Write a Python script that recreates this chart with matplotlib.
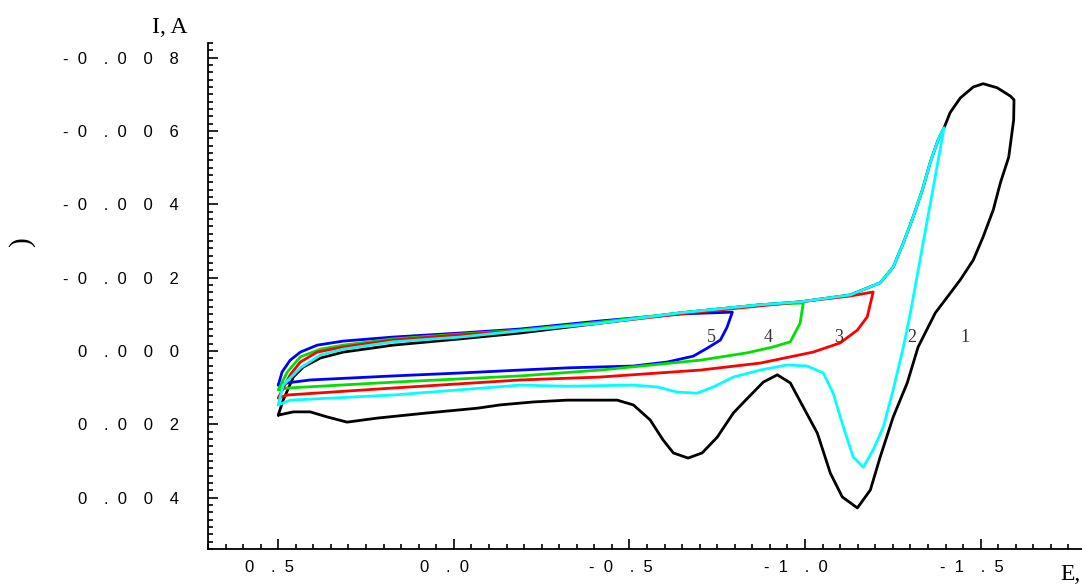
import matplotlib
matplotlib.use("Agg")
import matplotlib.pyplot as plt
import matplotlib.transforms as mtransforms
from matplotlib.ticker import MultipleLocator, FuncFormatter
import numpy as np

# potentials (V) and currents (mA), forward scan followed by the reverse scan
e1 = [0.500, 0.486, 0.457, 0.429, 0.380, 0.315, 0.173, -0.018, -0.189, -0.417, -0.645, -0.872,
      -0.986, -1.129, -1.157, -1.214, -1.251, -1.280, -1.308, -1.334, -1.356, -1.379, -1.396,
      -1.413, -1.442, -1.479, -1.507, -1.547, -1.585, -1.595,
      -1.594, -1.580, -1.556, -1.536, -1.507, -1.479, -1.442, -1.405, -1.371, -1.342, -1.322,
      -1.291, -1.251, -1.214, -1.186, -1.149, -1.106, -1.072, -1.035, -0.995, -0.958, -0.921,
      -0.881, -0.835, -0.796, -0.750, -0.707, -0.667, -0.625, -0.596, -0.559, -0.511, -0.465,
      -0.323, -0.226, -0.132, -0.067, 0.076, 0.218, 0.304, 0.360, 0.409, 0.457, 0.500]
i1 = [1.75, 1.34, 0.71, 0.44, 0.19, 0.03, -0.16, -0.33, -0.49, -0.76, -1.04, -1.26,
      -1.34, -1.53, -1.64, -1.86, -2.29, -2.95, -3.66, -4.39, -5.13, -5.76, -6.09,
      -6.50, -6.90, -7.20, -7.29, -7.18, -6.95, -6.85,
      -6.30, -5.29, -4.58, -3.85, -3.11, -2.48, -1.94, -1.47, -1.04, -0.49, -0.11,
      0.87, 1.80, 2.89, 3.79, 4.28, 3.98, 3.33, 2.24, 1.53, 0.87, 0.65,
      0.85, 1.30, 1.69, 2.35, 2.78, 2.92, 2.78, 2.43, 1.88, 1.47, 1.34,
      1.34, 1.39, 1.47, 1.56, 1.69, 1.83, 1.94, 1.80, 1.66, 1.66, 1.75]

e2 = [0.500, 0.486, 0.437, 0.380, 0.315, 0.173, -0.018, -0.189, -0.417, -0.645, -0.872,
      -0.986, -1.129, -1.157, -1.214, -1.251, -1.280, -1.308, -1.334, -1.356, -1.379, -1.396,
      -1.300, -1.280, -1.251, -1.223, -1.194, -1.166, -1.137, -1.109, -1.080, -1.052, -1.006,
      -0.949, -0.872, -0.796, -0.739, -0.693, -0.636, -0.579, -0.511, -0.323, -0.189, 0.173,
      0.466, 0.500]
i2 = [1.47, 0.93, 0.46, 0.11, -0.05, -0.25, -0.38, -0.55, -0.76, -1.04, -1.26,
      -1.34, -1.53, -1.64, -1.86, -2.29, -2.95, -3.66, -4.39, -5.13, -5.76, -6.09,
      -1.04, -0.11, 1.06, 2.07, 2.70, 3.17, 2.89, 2.07, 1.15, 0.60, 0.41,
      0.38, 0.52, 0.71, 0.98, 1.15, 1.12, 0.98, 0.93, 0.96, 0.93, 1.20,
      1.34, 1.47]

e3 = [0.500, 0.466, 0.437, 0.389, 0.315, 0.173, -0.018, -0.189, -0.417, -0.645, -0.872,
      -0.986, -1.129, -1.194,
      -1.177, -1.149, -1.100, -1.023, -0.872, -0.702, -0.417, -0.189, 0.173, 0.474, 0.500]
i3 = [1.28, 0.65, 0.30, 0.03, -0.11, -0.30, -0.44, -0.55, -0.76, -1.01, -1.23,
      -1.34, -1.50, -1.61,
      -0.93, -0.57, -0.22, 0.03, 0.33, 0.52, 0.71, 0.79, 1.01, 1.20, 1.28]

e4 = [0.500, 0.474, 0.437, 0.380, 0.315, 0.173, -0.018, -0.189, -0.417, -0.645, -0.872, -0.995,
      -0.986, -0.958, -0.909, -0.835, -0.702, -0.417, -0.189, 0.173, 0.474, 0.500]
i4 = [1.06, 0.57, 0.16, -0.05, -0.16, -0.33, -0.46, -0.57, -0.79, -1.04, -1.26, -1.31,
      -0.76, -0.25, -0.11, 0.05, 0.25, 0.52, 0.68, 0.85, 1.01, 1.06]

e5 = [0.500, 0.489, 0.466, 0.437, 0.389, 0.315, 0.173, -0.018, -0.189, -0.417, -0.645, -0.793,
      -0.778, -0.759, -0.722, -0.682, -0.608, -0.511, -0.323, -0.189, -0.018, 0.173, 0.409,
      0.474, 0.500]
i5 = [0.93, 0.57, 0.25, 0.03, -0.16, -0.27, -0.38, -0.49, -0.60, -0.82, -1.01, -1.06,
      -0.65, -0.30, -0.08, 0.14, 0.30, 0.41, 0.46, 0.52, 0.60, 0.68, 0.79,
      0.87, 0.93]

curve_names = ["1", "2", "3", "4", "5"]
name_e = [-1.456, -1.305, -1.095, -0.895, -0.733]
name_i = -0.38

SANS = ["Liberation Sans", "DejaVu Sans"]
SERIF = ["Liberation Serif", "DejaVu Serif"]


def spaced(s):
    out = s[0]
    for prev, ch in zip(s, s[1:]):
        out += ("  " if prev in "-." else "\u2002\u2002") + ch
    return out


fig = plt.figure(figsize=(10.82, 5.87), dpi=100)
ax = fig.add_axes([208 / 1082, 38 / 587, 878 / 1082, 506 / 587])

curves = [(e1, i1, "black"), (e5, i5, "#0000ff"), (e4, i4, "#00e000"),
          (e3, i3, "#ff0000"), (e2, i2, "#00ffff")]
for e, i, c in curves:
    ax.plot(e, np.array(i) * 1e-3, color=c, lw=2.0,
            solid_joinstyle="round", solid_capstyle="round")

for name, e in zip(curve_names, name_e):
    ax.text(e, name_i * 1e-3, name, fontsize=13, family=SERIF,
            ha="center", va="center", color="#333333")

ax.set_xlim(0.7, -1.8)
ax.set_ylim(0.0054, -0.0084)

ax.xaxis.set_major_locator(MultipleLocator(0.5))
ax.xaxis.set_minor_locator(MultipleLocator(0.05))
ax.yaxis.set_major_locator(MultipleLocator(0.002))
ax.yaxis.set_minor_locator(MultipleLocator(0.0002))
ax.xaxis.set_major_formatter(FuncFormatter(lambda v, p: spaced(f"{0.0 if abs(v) < 1e-9 else v:.1f}")))
ax.yaxis.set_major_formatter(FuncFormatter(lambda v, p: spaced(f"{0.0 if abs(v) < 1e-9 else v:.3f}")))

for side in ["top", "right"]:
    ax.spines[side].set_visible(False)
for side in ["left", "bottom"]:
    ax.spines[side].set_linewidth(1.3)

ax.tick_params(which="both", direction="in", width=1.2)
ax.tick_params(which="major", length=7.5)
ax.tick_params(which="minor", length=3.5)
ax.tick_params(axis="y", pad=21)
ax.tick_params(axis="x", pad=8)

for lab in ax.get_xticklabels() + ax.get_yticklabels():
    lab.set_family(SANS)
    lab.set_fontsize(12)
shift = mtransforms.ScaledTranslation(-9 / 100, 0, fig.dpi_scale_trans)
for lab in ax.get_xticklabels():
    lab.set_transform(lab.get_transform() + shift)

fig.text(152 / 1082, 1 - 33 / 587, "I, A", fontsize=17, family=SERIF, ha="left", va="baseline")
fig.text(1060 / 1082, 1 - 564 / 587, "E,", fontsize=17, family=SERIF, ha="left", va="top")
fig.text(22 / 1082, 1 - 241 / 587, ")", fontsize=21, family=SERIF, rotation=90,
         ha="center", va="center")

fig.savefig("out.png", dpi=100)
